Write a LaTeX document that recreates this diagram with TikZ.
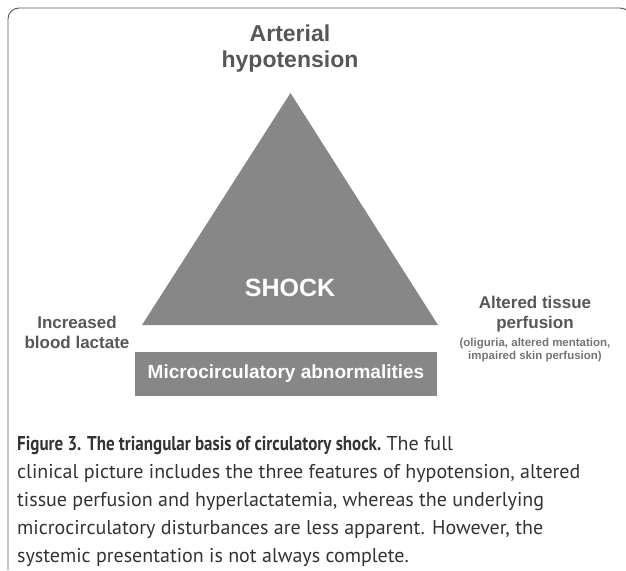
\documentclass[tikz,border=0pt]{standalone}
\usepackage{fontspec}
\usepackage{graphicx}
\setmainfont{Liberation Sans}
\newfontfamily\capfont{PT Sans}
\usetikzlibrary{positioning}

\definecolor{shockgray}{HTML}{878787}
\definecolor{labelgray}{HTML}{575757}
\definecolor{notegray}{HTML}{747474}
\definecolor{captext}{HTML}{333333}

\begin{document}
\begin{tikzpicture}[x=1pt,y=-1pt,
    label/.style={align=center,text=labelgray,font=\bfseries\fontsize{17}{20}\selectfont,inner sep=0pt},
    capline/.style={anchor=base west,text=captext,inner sep=0pt,font=\capfont\fontsize{20}{24}\selectfont}]
    \useasboundingbox (0,0) rectangle (626,570);
    % frame round the figure
    \draw[labelgray,line width=0.9pt] (8,570) -- (8,19) arc[start angle=180,end angle=270,radius=11] -- (620,8) arc[start angle=270,end angle=360,radius=11];
    % the triangle
    \coordinate (apex) at (290.5,93);
    \coordinate (left) at (142,325);
    \coordinate (right) at (438,325);
    \fill[shockgray] (apex) -- (left) -- (right) -- cycle;
    \node[text=white,font=\bfseries\fontsize{25}{28}\selectfont,inner sep=0pt] (shock) at (290,288) {SHOCK};
    \node[fill=shockgray,minimum width=302pt,minimum height=44pt,inner sep=0pt,
          text=white,font=\bfseries\fontsize{19}{22}\selectfont] (micro) at (286,374) {Microcirculatory abnormalities};
    % the three corners
    \node[label,font=\bfseries\fontsize{23}{26}\selectfont] (arterial) at (290,49) {Arterial\\hypotension};
    \node[label] (lactate) at (77,332) {Increased\\blood lactate};
    \node[label] (perfusion) at (535,314) {Altered tissue\\perfusion};
    \node[label,text=notegray,font=\bfseries\fontsize{11.5}{13}\selectfont] (signs) at (535,350) {(oliguria, altered mentation,\\impaired skin perfusion)};
    % caption
    \node[capline] (cap1) at (17,450) {\scalebox{0.85}[1]{\bfseries Figure 3. The triangular basis of circulatory shock.} The full};
    \node[capline] (cap2) at (17,478) {clinical picture includes the three features of hypotension, altered};
    \node[capline] (cap3) at (17,506) {tissue perfusion and hyperlactatemia, whereas the underlying};
    \node[capline] (cap4) at (17,534) {microcirculatory disturbances are less apparent. However, the};
    \node[capline] (cap5) at (17,562) {systemic presentation is not always complete.};
\end{tikzpicture}
\end{document}
